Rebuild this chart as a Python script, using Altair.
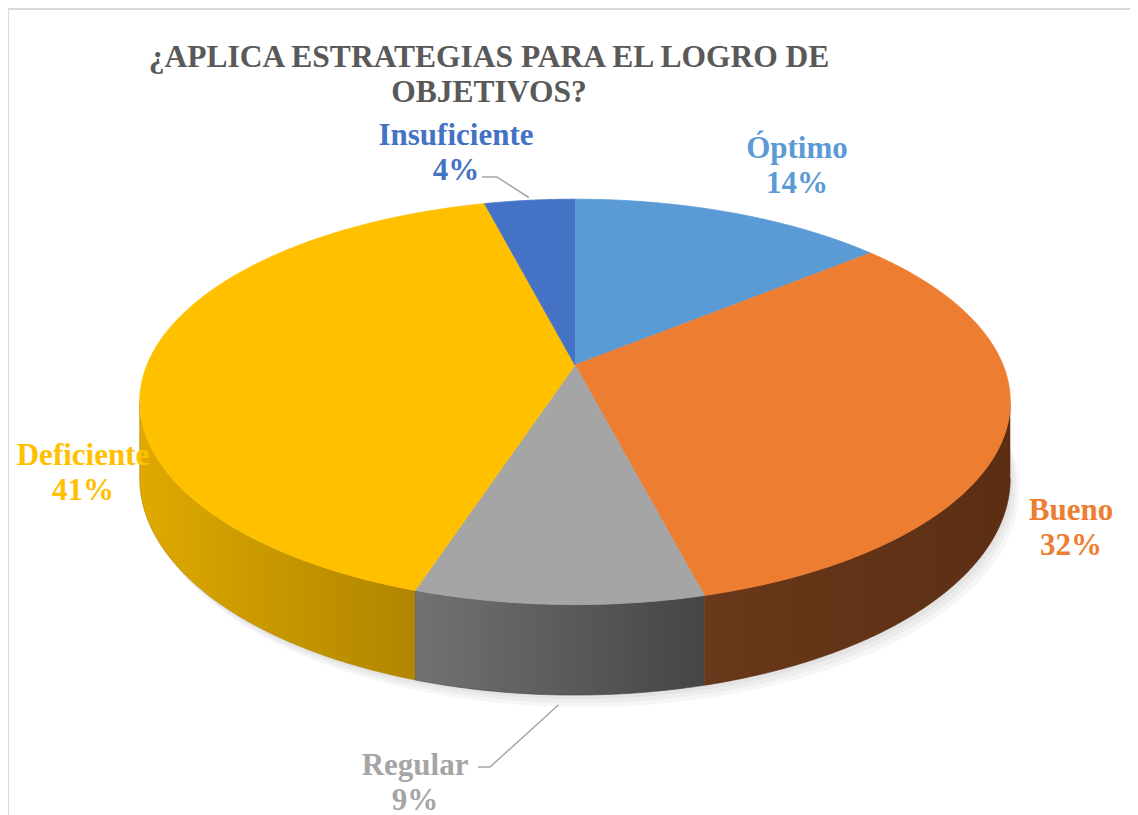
import numpy as np
import pandas as pd
import altair as alt

# ---------------- data ----------------
categories = ["Óptimo", "Bueno", "Regular", "Deficiente", "Insuficiente"]
percentages = [14, 32, 9, 41, 4]
slice_colors = ["#5B9BD5", "#ED7D31", "#A5A5A5", "#FFC000", "#4472C4"]
title_lines = ["¿APLICA ESTRATEGIAS PARA EL LOGRO DE", "OBJETIVOS?"]

# ---------------- layout (page pixel frame) ----------------
CX, CY = 575, 365          # apex of the pie
A, B = 428, 196            # semi axes of the top face
K = 0.182                  # perspective factor
DEPTH = 74                 # thickness of the pie
VISIBLE_WALL = (100.5, 259.5)
wall_gradients = {
    "Bueno": ("#6A381A", "#5B2E13"),
    "Regular": ("#727272", "#454545"),
    "Deficiente": ("#DFA900", "#B08500"),
}
bevel_colors = {"Deficiente": "#FFE033", "Regular": "#C6C6C6"}
LINE_H = 35
label_pos = {  # centre of each two-line label
    "Óptimo": (797, 166),
    "Bueno": (1071, 528),
    "Regular": (415, 783),
    "Deficiente": (83, 473),
    "Insuficiente": (456, 153),
}
leader_start = {"Insuficiente": [(482, 177), (497, 177)],
                "Regular": [(478, 767), (490, 767)]}
TITLE_POS = (489, 75)
FONT = "Liberation Serif"

W, H = 1122, 807
XS = alt.Scale(domain=[8, 8 + W], nice=False, zero=False)
YS = alt.Scale(domain=[8 + H, 8], nice=False, zero=False)


def proj(theta, r=1.0, drop=0.0):
    t = np.radians(theta)
    u, v = r * np.sin(t), r * np.cos(t)
    s = 1.0 / (1.0 + K * v)
    return CX + A * u * s, CY - B * v * s + drop * s


def arc_thetas(a, b, step=0.5):
    n = max(2, int(abs(b - a) / step) + 1)
    return np.linspace(a, b, n)


# slice angles from the values
total = float(sum(percentages))
ends = np.cumsum(percentages) / total * 360.0
starts = np.concatenate([[0.0], ends[:-1]])

# ---- top faces ----
top_rows = []
for cat, a, b in zip(categories, starts, ends):
    top_rows.append({"slice": cat, "ord": 0, "x": CX, "y": CY})
    for i, t in enumerate(arc_thetas(a, b)):
        x, y = proj(t)
        top_rows.append({"slice": cat, "ord": i + 1, "x": x, "y": y})
top_df = pd.DataFrame(top_rows)

# ---- side walls (front half only) ----
wall_frames = {}
for cat, a, b in zip(categories, starts, ends):
    lo, hi = max(a, VISIBLE_WALL[0]), min(b, VISIBLE_WALL[1])
    if hi <= lo:
        continue
    ts = arc_thetas(lo, hi)
    rows = []
    k = 0
    for t in ts:
        x, y = proj(t)
        rows.append({"slice": cat, "ord": k, "x": x, "y": y}); k += 1
    for t in ts[::-1]:
        x, y = proj(t, drop=DEPTH)
        rows.append({"slice": cat, "ord": k, "x": x, "y": y}); k += 1
    wall_frames[cat] = pd.DataFrame(rows)

# ---- soft shadow under the pie ----
shadow_rows = []
for j, (dx, dy) in enumerate([(3, 4), (6, 8), (9, 12)]):
    for i, t in enumerate(arc_thetas(0, 360, 1.0)):
        x, y = proj(t, drop=DEPTH)
        shadow_rows.append({"layer": j, "ord": i, "x": x + dx, "y": y + dy})
shadow_df = pd.DataFrame(shadow_rows)

# ---- bevel highlight along the front rim ----
bevel_rows = []
bevel_end = {"Deficiente": 300.0, "Regular": None}
for cat, a, b in zip(categories, starts, ends):
    if cat not in bevel_colors:
        continue
    lo = max(a, VISIBLE_WALL[0])
    hi = b if bevel_end[cat] is None else min(b, bevel_end[cat])
    for i, t in enumerate(arc_thetas(lo, hi)):
        x, y = proj(t, r=0.975)
        bevel_rows.append({"slice": cat, "ord": i, "x": x, "y": y})
bevel_df = pd.DataFrame(bevel_rows)

# ---- labels (multi-line text is anchored half a line low, so lift it) ----
label_df = pd.DataFrame({
    "slice": categories,
    "text": [f"{c}\n{p}%" for c, p in zip(categories, percentages)],
    "x": [label_pos[c][0] for c in categories],
    "y": [label_pos[c][1] - LINE_H / 2 for c in categories],
})

# ---- leader lines (end on the slice at its mid angle) ----
leader_rows = []
mids = dict(zip(categories, (starts + ends) / 2))
for cat, pts in leader_start.items():
    m = mids[cat]
    if np.cos(np.radians(m)) < 0:
        ex, ey = proj(m, r=1.0, drop=DEPTH + 8)
    else:
        ex, ey = proj(m, r=1.02)
    for i, (x, y) in enumerate(pts + [(ex, ey)]):
        leader_rows.append({"slice": cat, "ord": i, "x": x, "y": y})
leader_df = pd.DataFrame(leader_rows)

title_df = pd.DataFrame({"text": ["\n".join(title_lines)],
                         "x": [TITLE_POS[0]], "y": [TITLE_POS[1] - LINE_H / 2]})

color_scale = alt.Scale(domain=categories, range=slice_colors)


def xy():
    return dict(x=alt.X("x:Q", scale=XS, axis=None),
                y=alt.Y("y:Q", scale=YS, axis=None))


layers = []

layers.append(
    alt.Chart(shadow_df).mark_line(fill="#000000", fillOpacity=0.035, strokeWidth=0)
    .encode(**xy(), order=alt.Order("ord:Q"), detail="layer:N")
)

for cat, df in wall_frames.items():
    c0, c1 = wall_gradients.get(cat, ("#555555", "#333333"))
    grad = alt.LinearGradient(
        gradient="linear",
        stops=[alt.GradientStop(color=c0, offset=0), alt.GradientStop(color=c1, offset=1)],
        x1=0, x2=1, y1=0, y2=0,
    )
    layers.append(
        alt.Chart(df).mark_line(fill=grad, stroke=c1, strokeWidth=0.6)
        .encode(**xy(), order=alt.Order("ord:Q"))
    )

layers.append(
    alt.Chart(top_df).mark_line(strokeWidth=0.8, strokeJoin="round")
    .encode(**xy(), order=alt.Order("ord:Q"),
            fill=alt.Fill("slice:N", scale=color_scale, legend=None),
            stroke=alt.Stroke("slice:N", scale=color_scale, legend=None))
)

layers.append(
    alt.Chart(bevel_df).mark_line(strokeWidth=3, strokeOpacity=0.75, strokeCap="round")
    .encode(**xy(), order=alt.Order("ord:Q"),
            stroke=alt.Stroke("slice:N",
                              scale=alt.Scale(domain=list(bevel_colors.keys()),
                                              range=list(bevel_colors.values())),
                              legend=None))
)

layers.append(
    alt.Chart(leader_df).mark_line(stroke="#A6A6A6", strokeWidth=1.5)
    .encode(**xy(), order=alt.Order("ord:Q"), detail="slice:N")
)

layers.append(
    alt.Chart(label_df).mark_text(font=FONT, fontWeight="bold", fontSize=31,
                                  lineBreak="\n", lineHeight=LINE_H,
                                  align="center", baseline="middle")
    .encode(**xy(), text="text:N",
            color=alt.Color("slice:N", scale=color_scale, legend=None))
)

layers.append(
    alt.Chart(title_df).mark_text(font=FONT, fontWeight="bold", fontSize=31.5,
                                  lineBreak="\n", lineHeight=LINE_H, color="#595959",
                                  align="center", baseline="middle")
    .encode(**xy(), text="text:N")
)

layers.append(
    alt.Chart(title_df).mark_rule(color="#D9D9D9", strokeWidth=2)
    .encode(x=alt.value(0), x2=alt.value(W), y=alt.value(1))
)
layers.append(
    alt.Chart(title_df).mark_rule(color="#D9D9D9", strokeWidth=2)
    .encode(x=alt.value(0), y=alt.value(0), y2=alt.value(H))
)

chart = (
    alt.layer(*layers)
    .properties(width=W, height=H, padding=0, autosize="none", background="white")
    .configure_view(stroke=None)
)

chart.save("out.html", embed_options={"renderer": "svg", "actions": False})
